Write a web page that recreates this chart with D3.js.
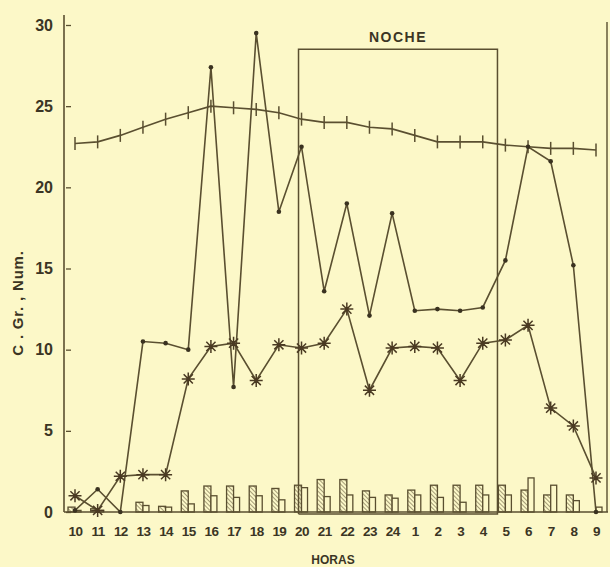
<!DOCTYPE html>
<html>
<head>
<meta charset="utf-8">
<script src="https://cdn.jsdelivr.net/npm/d3@7"></script>
<style>
  html, body { margin: 0; padding: 0; background: #fcf8c8; }
  svg { display: block; }
  text { font-family: "Liberation Sans", Arial, sans-serif; font-weight: bold; fill: #3b3524; }
</style>
</head>
<body>
<svg width="610" height="567"></svg>
<script>
// hours on the x axis
const hours = ["10","11","12","13","14","15","16","17","18","19","20","21","22","23","24","1","2","3","4","5","6","7","8","9"];
// series with crosses (upper line)
const crossVals = [22.7, 22.8, 23.2, 23.7, 24.2, 24.6, 25.0, 24.9, 24.8, 24.6, 24.2, 24.0, 24.0, 23.7, 23.6, 23.2, 22.8, 22.8, 22.8, 22.6, 22.5, 22.4, 22.4, 22.3];
// series with dots
const dotVals = [0.1, 1.4, 0.0, 10.5, 10.4, 10.0, 27.4, 7.7, 29.5, 18.5, 22.5, 13.6, 19.0, 12.1, 18.4, 12.4, 12.5, 12.4, 12.6, 15.5, 22.5, 21.6, 15.2, 0.0];
// series with asterisks
const starVals = [1.0, 0.1, 2.2, 2.3, 2.3, 8.2, 10.2, 10.4, 8.1, 10.3, 10.1, 10.4, 12.5, 7.5, 10.1, 10.2, 10.1, 8.1, 10.4, 10.6, 11.5, 6.4, 5.3, 2.1];
// bars at the bottom: hatched and plain
const hatchVals = [0.3, 0.2, 0.0, 0.6, 0.35, 1.3, 1.6, 1.6, 1.6, 1.45, 1.65, 2.0, 2.0, 1.3, 1.05, 1.35, 1.65, 1.65, 1.65, 1.65, 1.35, 1.05, 1.05, 0.0];
const plainVals = [0.1, 0.1, 0.0, 0.4, 0.3, 0.5, 1.0, 0.9, 1.0, 0.75, 1.5, 0.95, 1.05, 0.9, 0.85, 1.05, 0.9, 0.6, 1.05, 1.05, 2.1, 1.65, 0.7, 0.3];
const yTicks = [0, 5, 10, 15, 20, 25, 30];
const nightFrom = "20", nightTo = "4", nightTop = 28.5;

const ink = "#5a4f30";
const bg = "#fcf8c8";
const svg = d3.select("svg");

const x = d3.scalePoint().domain(hours).range([75, 596]);
const y = d3.scaleLinear().domain([0, 30]).range([512, 25]);

const defs = svg.append("defs");
defs.append("pattern")
  .attr("id", "hatch")
  .attr("patternUnits", "userSpaceOnUse")
  .attr("width", 3).attr("height", 3)
  .attr("patternTransform", "rotate(-45)")
  .append("line")
  .attr("x1", 0).attr("y1", 0).attr("x2", 0).attr("y2", 3)
  .attr("stroke", ink).attr("stroke-width", 1.1);

// bars
const bars = svg.append("g").attr("stroke", ink).attr("stroke-width", 1.3);
bars.selectAll("rect.h").data(hours.map((h, i) => [h, hatchVals[i]]).filter(d => d[1] > 0))
  .join("rect").attr("class", "h")
  .attr("x", d => x(d[0]) - 7).attr("width", 7)
  .attr("y", d => y(d[1])).attr("height", d => y(0) - y(d[1]))
  .attr("fill", "url(#hatch)");
bars.selectAll("rect.p").data(hours.map((h, i) => [h, plainVals[i]]).filter(d => d[1] > 0))
  .join("rect").attr("class", "p")
  .attr("x", d => x(d[0])).attr("width", 6)
  .attr("y", d => y(d[1])).attr("height", d => y(0) - y(d[1]))
  .attr("fill", bg);

// axes
const yAxis = d3.axisRight(y).tickValues(yTicks).tickSize(5).tickFormat(d3.format("d"));
const gy = svg.append("g").attr("transform", "translate(66,0)").call(yAxis);
gy.select(".domain").remove();
gy.selectAll(".tick line").attr("stroke", ink).attr("stroke-width", 1.3);
gy.selectAll(".tick text").attr("x", -13).attr("text-anchor", "end")
  .attr("font-size", 16).attr("fill", "#3b3524").attr("font-family", null);

svg.append("line").attr("x1", 64).attr("x2", 64).attr("y1", 15).attr("y2", y(0))
  .attr("stroke", ink).attr("stroke-width", 1.6);
svg.append("line").attr("x1", 64).attr("x2", 608).attr("y1", y(0)).attr("y2", y(0))
  .attr("stroke", ink).attr("stroke-width", 1.6);
svg.append("line").attr("x1", 607).attr("x2", 607).attr("y1", 22).attr("y2", y(0))
  .attr("stroke", ink).attr("stroke-width", 1.4);

const xAxis = d3.axisBottom(x).tickSize(0).tickPadding(14);
const gx = svg.append("g").attr("transform", `translate(0,${y(0)})`).call(xAxis);
gx.select(".domain").remove();
gx.selectAll(".tick text").attr("font-size", 13.5).attr("fill", "#3b3524")
  .attr("font-family", null).attr("letter-spacing", -0.6);

// night box
const step = x.step();
const bx0 = x(nightFrom) - 3, bx1 = x(nightTo) + step * 0.65;
svg.append("path")
  .attr("d", `M${bx0},${y(0) + 2}V${y(nightTop)}H${bx1}V${y(0) + 2}H${bx0}`)
  .attr("fill", "none").attr("stroke", ink).attr("stroke-width", 1.5);
svg.append("text").attr("x", (bx0 + bx1) / 2).attr("y", y(nightTop) - 7)
  .attr("text-anchor", "middle").attr("font-size", 14).attr("letter-spacing", 1.5)
  .text("NOCHE");

// lines
const line = d3.line().x((d, i) => x(hours[i])).y(d => y(d));
[crossVals, dotVals, starVals].forEach(vals => {
  svg.append("path").attr("d", line(vals)).attr("fill", "none")
    .attr("stroke", ink).attr("stroke-width", 1.6);
});

// cross markers
svg.append("g").selectAll("line").data(crossVals).join("line")
  .attr("x1", (d, i) => x(hours[i])).attr("x2", (d, i) => x(hours[i]))
  .attr("y1", d => y(d) - 6.5).attr("y2", d => y(d) + 6.5)
  .attr("stroke", ink).attr("stroke-width", 1.5);

// dot markers
svg.append("g").selectAll("circle").data(dotVals).join("circle")
  .attr("cx", (d, i) => x(hours[i])).attr("cy", d => y(d)).attr("r", 2.3)
  .attr("fill", "#3a3220");

// asterisk markers
const star = d3.range(8).map(k => {
  const a = k * Math.PI / 4;
  return `M0,0L${(6.5 * Math.cos(a)).toFixed(2)},${(6.5 * Math.sin(a)).toFixed(2)}`;
}).join("");
svg.append("g").selectAll("path").data(starVals).join("path")
  .attr("transform", (d, i) => `translate(${x(hours[i])},${y(d)})`)
  .attr("d", star).attr("stroke", "#4a3a22").attr("stroke-width", 1.5).attr("fill", "none");

// axis titles
svg.append("text").attr("transform", "translate(23,303) rotate(-90)")
  .attr("text-anchor", "middle").attr("font-size", 15).attr("letter-spacing", 0.8)
  .text("C . Gr. , Num.");
svg.append("text").attr("x", 333).attr("y", 564).attr("text-anchor", "middle")
  .attr("font-size", 12).text("HORAS");
</script>
</body>
</html>
